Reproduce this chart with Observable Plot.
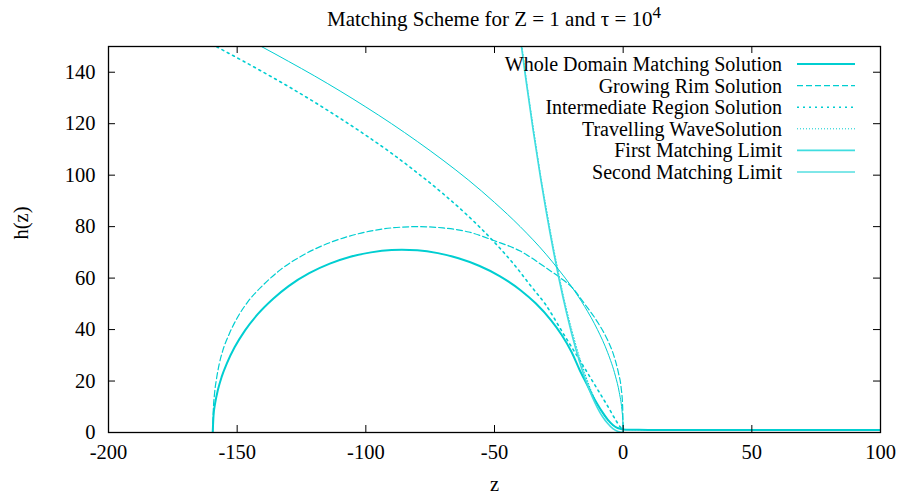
<!DOCTYPE html>
<html><head><meta charset="utf-8">
<script src="https://cdn.jsdelivr.net/npm/d3@7"></script>
<script src="https://cdn.jsdelivr.net/npm/@observablehq/plot@0.6"></script>
<style>body{margin:0;background:#fff} svg{display:block}</style>
</head><body><div id="chart"></div>
<script>
const xTicks = [-200, -150, -100, -50, 0, 50, 100];
const yTicks = [0, 20, 40, 60, 80, 100, 120, 140];
const titleMain = "Matching Scheme for Z = 1 and \u03c4 = 10";
const titleSup = "4";
const xLabel = "z";
const yLabel = "h(z)";
const seriesNames = ["Whole Domain Matching Solution", "Growing Rim Solution", "Intermediate Region Solution",
  "Travelling WaveSolution", "First Matching Limit", "Second Matching Limit"];

// Whole Domain Matching Solution
const wholeZ = [-159.5,-159.2,-158.5,-157.5,-156,-154,-151,-147,-142,-136,-130,-122,-114,-106,-98,-90,-86,-80,-72,-64,-56,-48,-40,-34,-28,-24,-20,-17,-14,-12,-10,-8,-6,-4,-2.5,-1,0,3,6,10,30,60,100];
const wholeH = [0,6.4,11.7,16.5,21.7,26.9,33.1,39.6,46,52,56.9,61.9,65.6,68.3,70,70.9,71,70.8,69.7,67.7,64.8,60.8,55.4,50.2,43.6,38.1,31.2,24.5,18.5,14.5,11,7.8,5,2.9,1.9,1.4,1.2,1.08,1.03,1,1,1,1];
// Growing Rim Solution
const rimZ = [-159.5,-159.3,-158.8,-158,-157,-155.6,-153,-150,-146,-140,-133,-125,-120,-110,-100,-90,-80,-70,-60,-50,-40,-30,-24.3,-20,-15,-10,-6.1,-3.5,-1.8,-0.8,-0.2,0];
const rimH = [0,8,15,21,26.5,31.8,38.5,44.5,50.6,57.2,63.4,68.6,71.2,75.2,77.9,79.5,80,79.5,77.9,74.5,70.5,64,60,56.5,50,43,36,29.5,23,17.5,10,0];
// Intermediate Region Solution
const interZ = [-160,-157.6,-150,-140,-130,-120,-110,-100,-90,-80,-70,-60,-50,-42,-36,-30,-23,-16.5,-10,-6,-3,-1,0];
const interH = [151,149.7,145.6,140.1,134.4,128.4,122.1,115.5,108.5,100.9,92.8,83.9,73.9,64.8,57.1,49.5,38,27.5,16.8,10.2,5,2,1.2];
// Travelling Wave Solution
const waveZ = [-41,-40,-38,-35,-32,-30,-27,-25,-22,-20,-17,-15,-12,-10,-8,-6,-4,-2,0,3,6,10,50,100];
const waveH = [162,155,140,119,99.5,87.8,71.5,61.5,47.8,40,29.3,23.2,15.2,10.9,7.4,4.8,2.8,1.7,1.25,1.08,1.03,1,1,1];
// First Matching Limit
const firstZ = [-41,-40,-38,-35,-32,-30,-27,-25,-22,-20,-17,-15,-12,-10,-8,-6,-4,-2,0];
const firstH = [161.4,153.6,138.6,117.6,98.3,86.4,70,60,46.5,38.4,27.7,21.6,13.8,9.6,6.1,3.5,1.5,0.4,0];
// Second Matching Limit
const secondZ = [-145,-140.6,-130,-120,-110,-100,-90,-80,-70,-60,-50,-40,-30,-25,-20,-15,-10,-6,-3,-1.5,-0.5,-0.1,0];
const secondH = [152.3,150,144.2,138.6,132.7,126.5,120,113.1,105.8,98,89.4,80,69.3,63.2,56.6,49,40,31,21.9,15.5,8.9,4,0];

const C = "#00ced1";
const styles = [
  {stroke: C, strokeWidth: 2},
  {stroke: C, strokeWidth: 1.2, strokeDasharray: "6,3"},
  {stroke: C, strokeWidth: 1.6, strokeDasharray: "2,4"},
  {stroke: C, strokeWidth: 1, strokeDasharray: "1,2"},
  {stroke: "#3fdde0", strokeWidth: 1.6},
  {stroke: C, strokeWidth: 1}
];
const pairs = [[wholeZ, wholeH], [rimZ, rimH], [interZ, interH], [waveZ, waveH], [firstZ, firstH], [secondZ, secondH]];
const tables = pairs.map(([zs, hs], i) => zs.map((z, j) => ({series: seriesNames[i], z, h: hs[j]})));

const font = '"Liberation Serif", "Times New Roman", Times, "DejaVu Serif", serif';
const innerW = 900 - 108 - 20, innerH = 502 - 46 - 70;

const chart = Plot.plot({
  width: 900, height: 502,
  marginLeft: 108, marginRight: 20, marginTop: 46, marginBottom: 70,
  x: {domain: [-200, 100]},
  y: {domain: [0, 150]},
  style: {fontFamily: font, fontSize: "20px", color: "black", background: "white"},
  marks: [
    Plot.axisX(xTicks, {tickSize: 0, tickPadding: 12, fontSize: 20.5, fontFamily: font, label: null, tickFormat: d => String(d)}),
    Plot.axisY(yTicks, {tickSize: 0, tickPadding: 13, fontSize: 20.5, fontFamily: font, label: null, tickFormat: d => String(d)}),
    ...tables.map((t, i) => Plot.line(t, {x: "z", y: "h", curve: "monotone-x", clip: true, ...styles[i]})),
    Plot.ruleX(xTicks, {stroke: "black", insetTop: innerH - 7}),
    Plot.ruleX(xTicks, {stroke: "black", insetBottom: innerH - 7}),
    Plot.ruleY(yTicks, {stroke: "black", insetRight: innerW - 7}),
    Plot.ruleY(yTicks, {stroke: "black", insetLeft: innerW - 7}),
    Plot.frame({stroke: "black", strokeWidth: 1.3}),
    Plot.text([yLabel], {frameAnchor: "left", dx: -87, rotate: -90, fontSize: 20.5, fontFamily: font, fill: "black"}),
    Plot.text([xLabel], {frameAnchor: "bottom", dy: 58, fontSize: 20.5, fontFamily: font, fill: "black"})
  ]
});
document.getElementById("chart").append(chart);

const svg = d3.select(chart);
const title = svg.append("text").attr("x", 494).attr("y", 26).attr("text-anchor", "middle")
  .style("font-family", font).attr("font-size", 21).attr("fill", "black");
title.append("tspan").text(titleMain);
title.append("tspan").attr("dy", -8).attr("font-size", 17).text(titleSup);

const lg = svg.append("g").style("font-family", font).attr("font-size", 20);
seriesNames.forEach((name, i) => {
  const y = 64 + i * 21.6;
  lg.append("text").attr("x", 782).attr("y", y).attr("dy", "0.35em").attr("text-anchor", "end").attr("fill", "black").text(name);
  const s = styles[i];
  lg.append("line").attr("x1", 797).attr("x2", 855).attr("y1", y).attr("y2", y)
    .attr("stroke", s.stroke).attr("stroke-width", s.strokeWidth).attr("stroke-dasharray", s.strokeDasharray || null);
});
</script></body></html>
